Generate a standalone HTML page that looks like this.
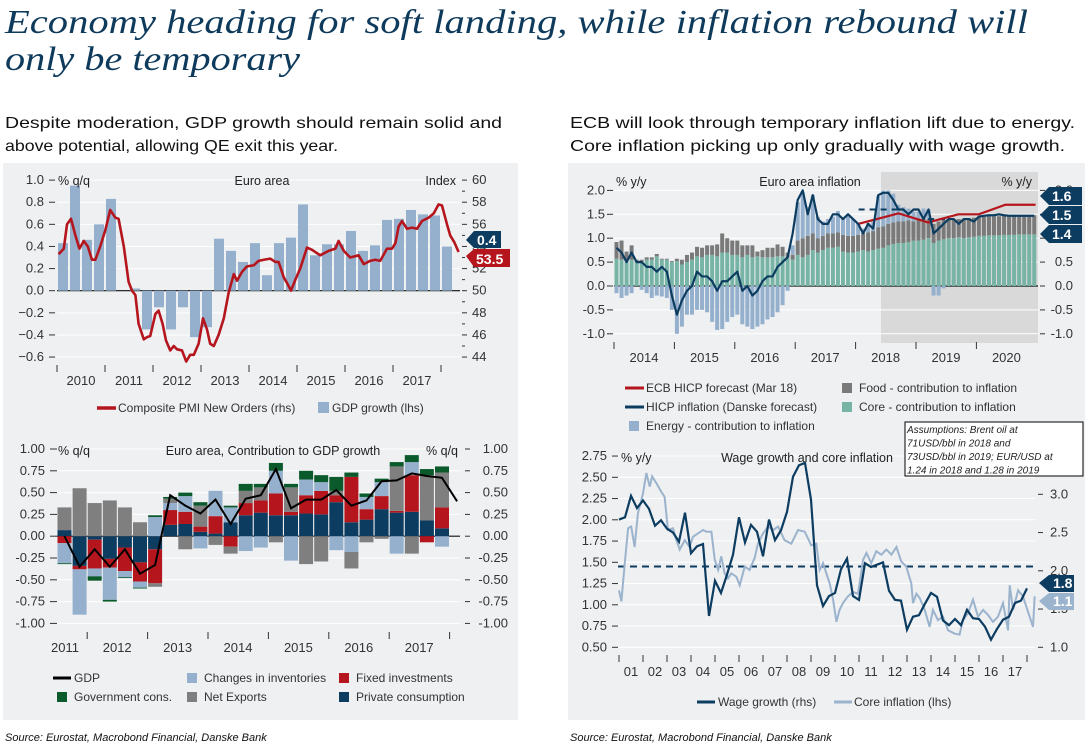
<!DOCTYPE html>
<html><head><meta charset="utf-8"><style>
html,body{margin:0;padding:0;background:#fff;}
svg{display:block;font-family:"Liberation Sans",sans-serif;}
</style></head><body>
<svg id="chart" width="1089" height="745" viewBox="0 0 1089 745" xmlns="http://www.w3.org/2000/svg">
<text x="5" y="33" font-family="Liberation Serif, serif" font-style="italic" font-size="34" fill="#0e3a5c" textLength="1023" lengthAdjust="spacingAndGlyphs">Economy heading for soft landing, while inflation rebound will</text>
<text x="5" y="70" font-family="Liberation Serif, serif" font-style="italic" font-size="34" fill="#0e3a5c" textLength="295" lengthAdjust="spacingAndGlyphs">only be temporary</text>
<text x="5" y="128" font-size="16" fill="#111" textLength="497" lengthAdjust="spacingAndGlyphs">Despite moderation, GDP growth  should remain solid and</text>
<text x="5" y="151" font-size="16" fill="#111" textLength="333" lengthAdjust="spacingAndGlyphs">above potential, allowing QE exit this year.</text>
<text x="570" y="128" font-size="16" fill="#111" textLength="505" lengthAdjust="spacingAndGlyphs">ECB will look through temporary inflation lift due to energy.</text>
<text x="570" y="151" font-size="16" fill="#111" textLength="495" lengthAdjust="spacingAndGlyphs">Core inflation picking up only gradually with wage growth.</text>
<rect x="3" y="163" width="515" height="557" fill="#eef0f2"/>
<rect x="568" y="163" width="517" height="557" fill="#eef0f2"/>
<text x="5" y="741" font-size="11" font-style="italic" fill="#111">Source: Eurostat, Macrobond Financial, Danske Bank</text>
<text x="570" y="741" font-size="11" font-style="italic" fill="#111">Source: Eurostat, Macrobond Financial, Danske Bank</text>
</svg>
<script>
// ---------- Chart 1 data ----------
const gdpQuarterly = [0.43,0.95,0.46,0.60, 0.83,0.0,0.02,-0.35, -0.15,-0.35,-0.15,-0.42, -0.33,0.47,0.36,0.26, 0.43,0.14,0.43,0.48, 0.78,0.32,0.42,0.42, 0.54,0.36,0.41,0.64, 0.65,0.73,0.69,0.68, 0.40];
const pmiMonth = [0.4,1.7,2.5,3.5,4.6,5.6,6.7,7.7,8.75,9.6,10.8,12.1,13.3,14.6,15.4,16.7,17.9,18.75,19.6,20.4,21.7,22.5,23.3,24.6,25.4,26.4,27.25,28.3,29.2,30,31.25,32.3,33.3,34.2,35.4,36.5,37.5,38.3,39.2,40.4,41.7,42.9,44.2,45,46.25,47.5,49.2,50.4,51.7,53.3,54.6,55.4,56.7,57.5,58.5,59.6,60.8,62.5,63.75,65.8,67.9,69.6,70.4,71.7,73.3,75.4,76.7,78.3,79.6,80.8,82.5,83.75,84.6,85.4,86.25,87.5,88.75,90,91.25,92.9,94.2,95.4,96.25,97.5,98.3,99.3,100.4];
const pmiValue = [53.3,53.8,56,56.5,55,53.8,54.5,54,52.8,52.8,54,55.5,57.3,56.6,56.5,54,50.8,50,49.6,47,45.6,45.8,45.9,47.9,48.2,47,45.5,44.6,45,44.7,44.6,43.6,44.2,44.2,45.2,47.5,46.5,45.2,45,46,47.5,49.8,51.5,50.9,51.7,52.2,52.3,52.7,52.8,52.9,52.6,52.6,51.2,50.7,50,51,52,53.9,53.7,53.2,53.6,53.8,54.5,53.6,53,53.2,52.4,52.7,52.8,52.7,53.8,53.8,54.3,55.8,56.3,55.6,55.7,55.6,56.3,56.6,57,57.8,57.7,56,55,54.4,53.5];
const c1LeftTicks = [1.0,0.8,0.6,0.4,0.2,0.0,-0.2,-0.4,-0.6];
const c1RightTicks = [60,58,56,54,52,50,48,46,44];
const c1Years = ['2010','2011','2012','2013','2014','2015','2016','2017'];
// ---------- Chart 2 data (from 2011Q3) ----------
const pcons = [0.07,-0.34,-0.04,-0.26,-0.13,-0.30,-0.15,0.13,0.14,0.05,0.03,0.16,0.24,0.27,0.24,0.24,0.26,0.25,0.39,0.16,0.19,0.31,0.27,0.28,0.18,0.09];
const fixinv = [-0.08,-0.04,-0.33,-0.10,-0.27,-0.22,-0.39,0.17,0.14,0.06,0.20,-0.12,0.14,0.14,0.25,0.04,0.21,0.27,0.08,0.52,0.12,0.15,0.02,0.42,-0.07,0.24];
const invent = [-0.23,-0.52,-0.09,-0.37,-0.07,-0.07,0.22,0.08,0.18,-0.14,0.29,0.17,-0.17,-0.13,0.26,-0.28,0.18,0.10,-0.16,-0.18,0.14,0.16,-0.20,0.15,0.0,-0.12];
const netexp = [0.26,0.55,0.38,0.41,0.33,0.16,-0.04,0.05,-0.15,0.24,-0.10,-0.08,0.14,0.15,-0.07,0.28,-0.32,-0.29,0.05,-0.19,-0.07,-0.03,0.51,-0.20,0.52,0.40];
const govcons = [-0.01,0.0,-0.05,-0.02,-0.01,-0.01,0.02,0.02,0.04,0.04,0.0,0.02,0.08,0.04,0.09,0.04,0.10,0.08,0.16,0.05,0.04,0.04,0.05,0.08,0.07,0.07];
const gdpLine = [0.0,-0.35,-0.15,-0.35,-0.15,-0.43,-0.33,0.47,0.35,0.26,0.42,0.14,0.43,0.47,0.77,0.32,0.42,0.42,0.53,0.35,0.41,0.63,0.64,0.72,0.69,0.67,0.40];
const c2Ticks = [1.0,0.75,0.5,0.25,0,-0.25,-0.5,-0.75,-1.0];
const c2TickLabels = ['1.00','0.75','0.50','0.25','0.00','-0.25','-0.50','-0.75','-1.00'];
const c2Years = ['2011','2012','2013','2014','2015','2016','2017'];
// ---------- Chart 3 data (monthly from Jan 2014) ----------
const coreC = [.57,.55,.52,.55,.5,.5,.55,.55,.62,.55,.55,.5, .52,.45,.5,.55,.62,.6,.65,.65,.62,.7,.7,.65, .65,.6,.65,.6,.62,.6,.6,.6,.62,.62,.6,.55, .65,.6,.65,.75,.7,.75,.8,.8,.82,.72,.7,.7, .72,.75,.72,.75,.78,.8,.85,.88,.9,.9,.92,.95, .95,.97,1.0,.9,.95,.98,1.0,1.0,1.02,1.0,1.02,1.03, 1.05,1.05,1.06,1.06,1.06,1.07,1.07,1.07,1.08,1.08,1.08,1.08];
const foodC = [.35,.4,.2,.3,.05,.05,.05,.05,.05,.02,.02,.02, .05,.1,.15,.15,.2,.2,.2,.2,.25,.4,.3,.3, .3,.25,.2,.25,.1,.15,.2,.2,.25,.2,.1,.1, .3,.4,.4,.35,.3,.3,.3,.3,.3,.35,.35,.35, .35,.35,.4,.4,.45,.45,.45,.45,.45,.45,.45,.4, .45,.45,.4,.4,.4,.4,.4,.38,.38,.4,.4,.4, .4,.4,.4,.4,.4,.4,.4,.4,.4,.4,.4,.4];
const energyC = [-.15,-.25,-.2,-.15,0,-.08,-.15,-.25,-.2,-.22,-.25,-.5, -1.0,-.85,-.6,-.6,-.5,-.5,-.55,-.75,-.92,-.9,-.75,-.65, -.6,-.8,-.85,-.9,-.85,-.8,-.7,-.65,-.55,-.4,-.1,.2, .8,.95,.6,.8,.45,.3,.3,.35,.45,.35,.45,.35, .25,.1,.2,.2,.65,.75,.7,.6,.35,.3,.25,.2, .15,.2,.2,-.2,-.2,-.05,0,0,0,0,0,0, 0,0,0,0,0,0,0,0,0,0,0,0];
const hicp = [0.8,0.7,0.5,0.7,0.5,0.5,0.4,0.4,0.3,0.4,0.3,-0.2, -0.6,-0.3,-0.1,0.0,0.3,0.2,0.2,0.1,-0.1,0.1,0.1,0.2, 0.3,-0.1,0.0,-0.2,-0.1,0.1,0.2,0.2,0.4,0.5,0.6,1.1, 1.8,2.0,1.5,1.9,1.4,1.3,1.3,1.5,1.5,1.4,1.5,1.4, 1.3,1.1,1.3,1.2,1.9,1.95,1.95,1.8,1.6,1.6,1.5,1.6, 1.6,1.4,1.6,1.1,1.2,1.3,1.4,1.4,1.3,1.4,1.4,1.35, 1.45,1.47,1.48,1.48,1.5,1.48,1.47,1.47,1.47,1.47,1.47,1.47];
const ecbYear = [2018.05,2018.35,2018.71,2019.2,2019.7,2020.04,2020.48,2020.98];
const ecbValue = [1.3,1.4,1.52,1.33,1.5,1.5,1.7,1.7];
const c3Ticks = [2.0,1.5,1.0,0.5,0.0,-0.5,-1.0];
const c3Years = ['2014','2015','2016','2017','2018','2019','2020'];
// ---------- Chart 4 data ----------
const wageQ = [2.67,2.70,2.98,2.82,2.92,2.81,2.59,2.66,2.55,2.50,2.38,2.76,2.23,2.32,2.35,1.41,1.87,1.71,1.95,2.21,2.70,2.37,2.60,2.51,2.19,2.67,2.40,2.53,2.77,3.23,3.38,3.41,2.93,1.81,1.54,1.67,1.71,2.02,2.16,1.67,1.62,2.10,2.05,2.08,2.11,1.74,1.62,1.61,1.23,1.40,1.42,1.57,1.71,1.66,1.35,1.29,1.37,1.29,1.49,1.38,1.37,1.27,1.10,1.24,1.36,1.40,1.58,1.61,1.77];
const coreT = [0,.10,.24,.38,.51,.65,.79,1.0,1.14,1.28,1.38,1.56,1.76,1.9,2.04,2.25,2.39,2.53,2.74,2.94,3.08,3.29,3.5,3.64,3.85,3.99,4.13,4.26,4.4,4.54,4.68,4.89,5.03,5.24,5.44,5.65,5.79,6.0,6.21,6.42,6.63,6.9,7.18,7.46,7.74,8.01,8.22,8.36,8.5,8.64,8.78,8.92,9.06,9.19,9.33,9.54,9.75,9.96,10.17,10.31,10.51,10.72,10.93,11.14,11.35,11.56,11.76,11.97,12.18,12.25,12.39,12.53,12.74,12.94,13.08,13.29,13.5,13.71,13.99,14.19,14.33,14.54,14.75,14.96,15.17,15.38,15.58,15.79,16.0,16.21,16.28,16.42,16.63,16.83,17.04,17.25,17.32];
const coreV = [1.17,1.04,1.49,1.90,1.92,1.68,2.08,2.31,2.55,2.39,2.51,2.43,2.33,2.27,1.88,1.90,1.76,1.65,1.76,1.68,1.80,1.84,1.88,1.86,1.86,1.53,1.41,1.57,1.37,1.31,1.37,1.33,1.23,1.45,1.41,1.55,1.72,1.84,1.92,1.88,1.92,1.76,1.72,1.88,1.86,1.70,1.72,1.41,1.49,1.37,1.25,1.06,0.80,0.94,1.02,1.10,1.15,1.13,1.53,1.61,1.49,1.63,1.59,1.65,1.59,1.68,1.51,1.45,1.25,1.02,1.13,1.08,0.94,0.74,0.94,0.82,0.86,0.70,0.66,0.65,0.82,0.90,1.06,0.86,0.94,0.88,0.80,0.86,1.02,0.70,1.23,0.94,1.17,1.10,0.92,0.74,1.10];
const c4LeftTicks = [2.75,2.5,2.25,2.0,1.75,1.5,1.25,1.0,0.75,0.5];
const c4LeftLabels = ['2.75','2.50','2.25','2.00','1.75','1.50','1.25','1.00','0.75','0.50'];
const c4RightTicks = [3.0,2.5,2.0,1.5,1.0];
const c4Years = ['01','02','03','04','05','06','07','08','09','10','11','12','13','14','15','16','17'];
const c4Average = 1.45;

const NS='http://www.w3.org/2000/svg';
const svg=document.getElementById('chart');
function mk(tag,a){const e=document.createElementNS(NS,tag);for(const k in a)e.setAttribute(k,a[k]);svg.appendChild(e);return e;}
function tx(x,y,s,a){const e=mk('text',Object.assign({x:x,y:y,'font-size':12,fill:'#333'},a||{}));e.textContent=s;return e;}
const NAVY='#0d3c61',RED='#b5161e',LB='#95b0cd',GRAY='#7f7f7f',GREEN='#0b5a2c',CORE='#78b4a5',FOOD='#7a7a7a';

// ================= CHART 1 =================
(function(){
const L=57,R=460;
const x1=m=>L+m*4.0;
const yL=v=>290.7-v*110.6;
const yR=v=>290.7-(v-50)*11.06;
c1LeftTicks.forEach(v=>{
  let g=mk('line',{x1:L,x2:R,y1:yL(v),y2:yL(v),stroke:v===0?'#111':'#fff','stroke-width':v===0?1.2:1});
  
  
  let d=mk('line',{x1:49,x2:55,y1:yL(v),y2:yL(v),stroke:'#333'});
  
  
  let t=tx(44,yL(v)+4,v.toFixed(1).replace('-','−'),{'text-anchor':'end','font-size':13});
  
  
});
for(let v=44;v<=60;v++){
  let d=mk('line',{x1:462,x2:v%2===0?467:465,y1:yR(v),y2:yR(v),stroke:'#333'});
  
  
}
c1RightTicks.forEach(v=>{
  let t=tx(472,yR(v)+4,String(v),{'font-size':13});
  
  
});
gdpQuarterly.forEach((v,i)=>{
  const xc=x1(i*3+1.5);
  let b=mk('rect',{x:xc-5,width:10,y:Math.min(yL(v),yL(0)),height:Math.abs(yL(v)-yL(0)),fill:LB});
  
  
});
let p=mk('polyline',{points:pmiMonth.map((m,i)=>x1(m)+','+yR(pmiValue[i])).join(' '),fill:'none',stroke:RED,'stroke-width':2.6,'stroke-linejoin':'round'});


for(let k=0;k<=8;k++){
  let d=mk('line',{x1:L+48*k,x2:L+48*k,y1:365,y2:372,stroke:'#333'});
  
  
}
c1Years.forEach((y,k)=>{
  let t=tx(L+48*k+24,385,y,{'text-anchor':'middle','font-size':13});
  
  
});
let a=tx(58,185,'% q/q',{'font-size':12.5,fill:'#222'});
let b=tx(262,185,'Euro area',{'font-size':12.5,'text-anchor':'middle',fill:'#222'});
let c=tx(456,185,'Index',{'font-size':12.5,'text-anchor':'end',fill:'#222'});
let lb1=mk('path',{d:'M466,240 L474,231 L501,231 L501,248 L474,248 Z',fill:NAVY});
let lt1=tx(477,245,String(gdpQuarterly[gdpQuarterly.length-1]),{'font-size':14,fill:'#fff','font-weight':'bold'});
let lb2=mk('path',{d:'M466,256 L474,249 L510,249 L510,267 L474,267 Z',fill:RED});
let lt2=tx(476,264,String(pmiValue[pmiValue.length-1]),{'font-size':14,fill:'#fff','font-weight':'bold'});
let l1=mk('line',{x1:97,x2:116,y1:408,y2:408,stroke:RED,'stroke-width':3.5});
let l2=tx(118,412,'Composite PMI New Orders (rhs)',{'font-size':12});
let l3=mk('rect',{x:318,y:402,width:11,height:11,fill:LB});
let l4=tx(332,412,'GDP growth (lhs)',{'font-size':12});
})();

// ================= CHART 2 =================
(function(){
const L=57,R=460;
const x2=q=>L+q*15.1;
const y2=v=>536.2-v*87.2;
c2Ticks.forEach((v,i)=>{
  let g=mk('line',{x1:L,x2:R,y1:y2(v),y2:y2(v),stroke:v===0?'#111':'#fff','stroke-width':v===0?1.2:1});
  
  
  let d=mk('line',{x1:50,x2:57,y1:y2(v),y2:y2(v),stroke:'#333'});
  
  
  let d2=mk('line',{x1:465,x2:470,y1:y2(v),y2:y2(v),stroke:'#333'});
  
  
  let t=tx(45,y2(v)+4,c2TickLabels[i],{'text-anchor':'end','font-size':13});
  
  
  let t2=tx(508,y2(v)+4,c2TickLabels[i],{'text-anchor':'end','font-size':13});
  
  
});
const series=[[pcons,NAVY,'private-consumption'],[fixinv,RED,'fixed-investments'],[invent,LB,'inventories'],[netexp,GRAY,'net-exports'],[govcons,GREEN,'government-consumption']];
for(let i=0;i<pcons.length;i++){
  let pos=0,neg=0;
  series.forEach(s=>{
    const v=s[0][i];if(v===0)return;
    let y0,y1;
    if(v>0){y0=pos;y1=pos+v;pos=y1;}else{y0=neg;y1=neg+v;neg=y1;}
    let r=mk('rect',{x:x2(i)+0.5,width:14,y:Math.min(y2(y0),y2(y1)),height:Math.abs(y2(y1)-y2(y0)),fill:s[1]});
    
    
  });
}
let gl=mk('polyline',{points:gdpLine.map((v,i)=>(x2(i)+7.5)+','+y2(v)).join(' '),fill:'none',stroke:'#000','stroke-width':2});


for(let k=0;k<7;k++){
  const xx=x2(2+4*k);
  let d=mk('line',{x1:xx,x2:xx,y1:632,y2:639,stroke:'#333'});
  
  
}
c2Years.forEach((y,k)=>{
  const xc=k===0?65:x2(2+4*(k-1))+30;
  let t=tx(xc,652,y,{'text-anchor':'middle','font-size':13});
  
  
});
let a=tx(58,455,'% q/q',{'font-size':12.5,fill:'#222'});
let b=tx(273,455,'Euro area, Contribution to GDP growth',{'font-size':12.5,'text-anchor':'middle',fill:'#222'});
let c=tx(458,455,'% q/q',{'font-size':12.5,'text-anchor':'end',fill:'#222'});
const leg=[[57,678,'line','#000','GDP','c2-legend-gdp'],[187,678,'sq',LB,'Changes in inventories','c2-legend-inventories'],[339,678,'sq',RED,'Fixed investments','c2-legend-fixed-investments'],[57,697,'sq',GREEN,'Government cons.','c2-legend-government'],[187,697,'sq',GRAY,'Net Exports','c2-legend-net-exports'],[339,697,'sq',NAVY,'Private consumption','c2-legend-private-consumption']];
leg.forEach(l=>{
  let s=l[2]==='line'?mk('line',{x1:53,x2:71,y1:l[1],y2:l[1],stroke:l[3],'stroke-width':3}):mk('rect',{x:l[0],y:l[1]-5,width:10,height:10,fill:l[3]});
  
  
  let t=tx(l[2]==='line'?74:l[0]+17,l[1]+4,l[4],{'font-size':12});
  
  
});
})();

// ================= CHART 3 =================
(function(){
const L=614,R=1038;
const x3=m=>L+m*5.033;
const yr=y=>L+(y-2014)*60.4;
const y3=v=>286-v*47.8;
let sh=mk('rect',{x:881,y:172,width:R-881,height:171,fill:'#d9d9d9'});


c3Ticks.forEach(v=>{
  let g=mk('line',{x1:L,x2:R,y1:y3(v),y2:y3(v),stroke:v===0?'#111':'#fff','stroke-width':v===0?1.2:1});
  
  
  let d=mk('line',{x1:607,x2:613,y1:y3(v),y2:y3(v),stroke:'#333'});
  
  
  let d2=mk('line',{x1:1040,x2:1045,y1:y3(v),y2:y3(v),stroke:'#333'});
  
  
  let t=tx(605,y3(v)+4,v.toFixed(1),{'text-anchor':'end','font-size':13});
  
  
  let t2=tx(1073,y3(v)+4,v.toFixed(1),{'text-anchor':'end','font-size':13});
  
  
});
for(let i=0;i<coreC.length;i++){
  const xx=x3(i)+0.5;
  const parts=[[0,coreC[i],CORE,'core'],[coreC[i],coreC[i]+foodC[i],FOOD,'food']];
  if(energyC[i]>0)parts.push([coreC[i]+foodC[i],coreC[i]+foodC[i]+energyC[i],LB,'energy']);
  if(energyC[i]<0)parts.push([0,energyC[i],LB,'energy']);
  parts.forEach(p=>{
    let r=mk('rect',{x:xx,width:4,y:Math.min(y3(p[0]),y3(p[1])),height:Math.abs(y3(p[1])-y3(p[0])),fill:p[2]});
    
    
  });
}
let ds=mk('line',{x1:yr(2018.05),x2:yr(2018.75),y1:y3(1.6),y2:y3(1.6),stroke:NAVY,'stroke-width':2,'stroke-dasharray':'6,5'});


let ds2=mk('line',{x1:yr(2019.2),x2:yr(2019.5),y1:y3(1.4),y2:y3(1.4),stroke:NAVY,'stroke-width':2,'stroke-dasharray':'6,5'});


let ecb=mk('polyline',{points:ecbYear.map((y,i)=>yr(y)+','+y3(ecbValue[i])).join(' '),fill:'none',stroke:RED,'stroke-width':2.2});


let hl=mk('polyline',{points:hicp.map((v,i)=>(x3(i)+2.5)+','+y3(v)).join(' '),fill:'none',stroke:NAVY,'stroke-width':2.2,'stroke-linejoin':'round'});


for(let k=0;k<7;k++){
  let d=mk('line',{x1:yr(2014+k),x2:yr(2014+k),y1:342,y2:349,stroke:'#333'});
  
  
}
c3Years.forEach((y,k)=>{
  let t=tx(yr(2014+k)+30,362,y,{'text-anchor':'middle','font-size':13});
  
  
});
let a=tx(616,186,'% y/y',{'font-size':12.5,fill:'#222'});
let b=tx(810,186,'Euro area inflation',{'font-size':12.5,'text-anchor':'middle',fill:'#222'});
let c=tx(1032,186,'% y/y',{'font-size':12.5,'text-anchor':'end',fill:'#222'});
[['1.6',196],['1.5',215],['1.4',234]].forEach(l=>{
  let bx=mk('path',{d:'M1040,'+l[1]+' L1049,'+(l[1]-9)+' L1082,'+(l[1]-9)+' L1082,'+(l[1]+9)+' L1049,'+(l[1]+9)+' Z',fill:NAVY});
  
  
  let t=tx(1052,l[1]+5,l[0],{'font-size':14,fill:'#fff','font-weight':'bold'});
  
  
});
const leg=[[625,388,'line',RED,'ECB HICP forecast (Mar 18)','c3-legend-ecb'],[842,388,'sq',FOOD,'Food - contribution to inflation','c3-legend-food'],[625,407,'line',NAVY,'HICP inflation (Danske forecast)','c3-legend-hicp'],[842,407,'sq',CORE,'Core - contribution to inflation','c3-legend-core'],[629,426,'sq',LB,'Energy - contribution to inflation','c3-legend-energy']];
leg.forEach(l=>{
  let s=l[2]==='line'?mk('line',{x1:l[0],x2:l[0]+19,y1:l[1],y2:l[1],stroke:l[3],'stroke-width':3}):mk('rect',{x:l[0],y:l[1]-5,width:10,height:10,fill:l[3]});
  
  
  let t=tx(l[2]==='line'?l[0]+21:l[0]+17,l[1]+4,l[4],{'font-size':12});
  
  
});
})();

// ================= CHART 4 =================
(function(){
const L=618,R=1035;
const x4=y=>619+(y-2001)*24.0;
const yL=v=>647.3-(v-0.5)*85.0;
const yR=v=>647.3-(v-1.0)*76.5;
c4LeftTicks.forEach((v,i)=>{
  let g=mk('line',{x1:L,x2:R,y1:yL(v),y2:yL(v),stroke:'#fff'});
  
  
  let d=mk('line',{x1:612,x2:618,y1:yL(v),y2:yL(v),stroke:'#333'});
  
  
  let t=tx(607,yL(v)+4,c4LeftLabels[i],{'text-anchor':'end','font-size':13});
  
  
});
c4RightTicks.forEach(v=>{
  let d=mk('line',{x1:1038,x2:1043,y1:yR(v),y2:yR(v),stroke:'#333'});
  
  
  let t=tx(1050,yR(v)+4,v.toFixed(1),{'font-size':13});
  
  
});
let av=mk('line',{x1:L,x2:R,y1:yL(c4Average),y2:yL(c4Average),stroke:NAVY,'stroke-width':2,'stroke-dasharray':'7,5'});


let cl=mk('polyline',{points:coreT.map((t,i)=>x4(2001+t)+','+yL(coreV[i])).join(' '),fill:'none',stroke:'#9bb3cc','stroke-width':2});


let wl=mk('polyline',{points:wageQ.map((v,i)=>x4(2001+i*0.25)+','+yR(v)).join(' '),fill:'none',stroke:NAVY,'stroke-width':2.2});


for(let k=0;k<=17;k++){
  let d=mk('line',{x1:x4(2001+k),x2:x4(2001+k),y1:655,y2:662,stroke:'#333'});
  
  
}
c4Years.forEach((y,k)=>{
  let t=tx(x4(2001+k)+12,676,y,{'text-anchor':'middle','font-size':13});
  
  
});
let a=tx(621,462,'% y/y',{'font-size':12.5,fill:'#222'});
let b=tx(807,462,'Wage growth and core inflation',{'font-size':12.5,'text-anchor':'middle',fill:'#222'});
let bx=mk('path',{d:'M1039,583 L1049,575 L1074,575 L1074,592 L1049,592 Z',fill:NAVY});
let bt=tx(1053,588,'1.8',{'font-size':14,fill:'#fff','font-weight':'bold'});
let bx2=mk('path',{d:'M1039,601 L1049,593 L1074,593 L1074,610 L1049,610 Z',fill:'#9bb3cc'});
let bt2=tx(1053,606,'1.1',{'font-size':14,fill:'#fff','font-weight':'bold'});
let l1=mk('line',{x1:697,x2:715,y1:702,y2:702,stroke:NAVY,'stroke-width':3});
let l2=tx(718,706,'Wage growth (rhs)',{'font-size':12});
let l3=mk('line',{x1:834,x2:852,y1:702,y2:702,stroke:'#9bb3cc','stroke-width':3});
let l4=tx(854,706,'Core inflation (lhs)',{'font-size':12});
// assumptions box
let ab=mk('rect',{x:905,y:422,width:178,height:54,fill:'#fff',stroke:'#000','stroke-width':1});


['Assumptions: Brent oil at','71USD/bbl in 2018 and','73USD/bbl in 2019; EUR/USD at','1.24 in 2018 and 1.28 in 2019'].forEach((s,i)=>{
  let t=tx(907,433+i*13.5,s,{'font-size':10,'font-style':'italic',fill:'#222'});
  
  
});
})();
</script>
</body></html>
